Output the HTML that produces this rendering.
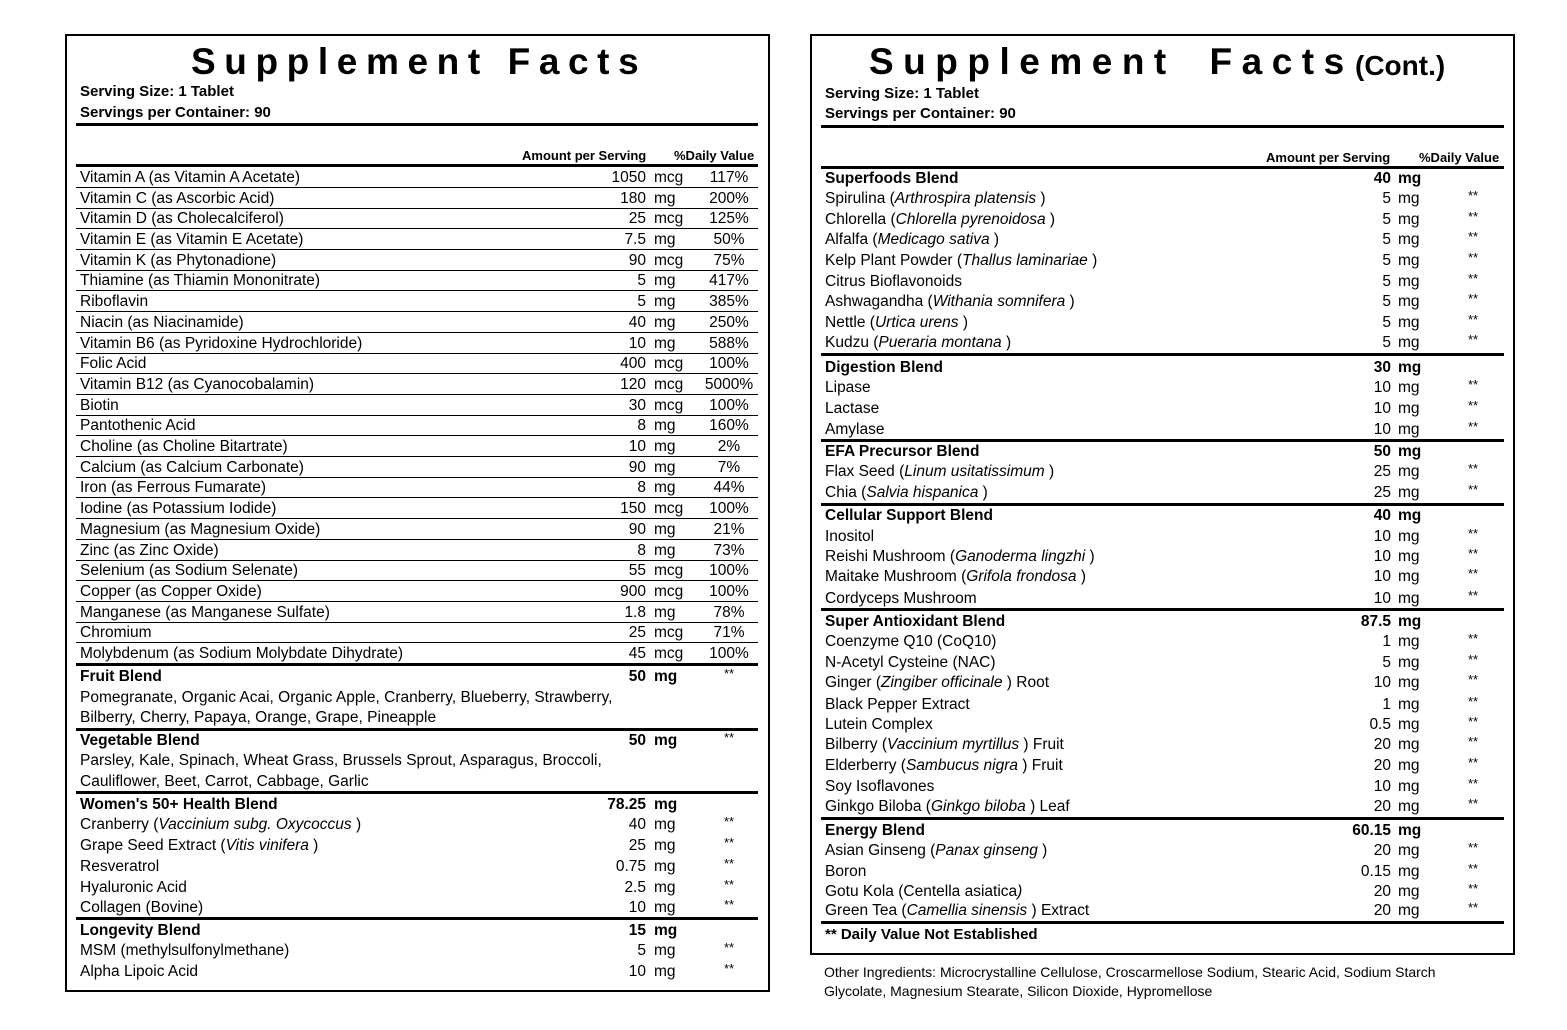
<!DOCTYPE html>
<html><head><meta charset="utf-8"><style>
body{margin:0;width:1567px;height:1030px;background:#fff;position:relative;font-family:"Liberation Sans",Arial,sans-serif;color:#000;overflow:hidden}
.box{position:absolute;border:2px solid #000;box-sizing:border-box}
.t{position:absolute;font-weight:bold;font-size:37px;letter-spacing:8.6px;white-space:nowrap;line-height:40px}
.s{position:absolute;font-weight:bold;font-size:15px;white-space:nowrap;line-height:20px}
.k{position:absolute;height:3px;background:#000}
.r{position:absolute;height:20px;line-height:22px;font-size:15.5px;white-space:nowrap}
.ln{border-bottom:1px solid #000}
.r span{position:absolute;top:0}
.L .a{left:4px}
.L .n{left:480px;width:90px;text-align:right}
.L .u{left:578px}
.L .p{left:622px;width:62px;text-align:center}
.R .a{left:4px}
.R .n{left:480px;width:90px;text-align:right}
.R .u{left:577px}
.R .p{left:620px;width:64px;text-align:center}
.r .p.x{font-size:13px;line-height:16px}
.b{font-weight:bold}
.h{position:absolute;font-size:13px;font-weight:bold;white-space:nowrap}
i{font-style:italic}
</style></head><body>

<div class="box" style="left:65px;top:34px;width:705px;height:958px"></div>
<div class="t" style="left:191px;top:42px">Supplement Facts</div>
<div class="s" style="left:80px;top:82px">Serving Size: 1 Tablet</div>
<div class="s" style="left:80px;top:103px">Servings per Container: 90</div>
<div class="k" style="left:76px;top:123px;width:682px"></div>
<div class="h" style="left:522px;top:148px">Amount per Serving</div>
<div class="h" style="left:674px;top:148px">%Daily Value</div>
<div class="k" style="left:76px;top:164px;width:682px"></div>

<div class="r L ln" style="left:76px;width:682px;top:167px"><span class="a">Vitamin A (as Vitamin A Acetate)</span><span class="n">1050</span><span class="u">mcg</span><span class="p">117%</span></div>
<div class="r L ln" style="left:76px;width:682px;top:188px"><span class="a">Vitamin C (as Ascorbic Acid)</span><span class="n">180</span><span class="u">mg</span><span class="p">200%</span></div>
<div class="r L ln" style="left:76px;width:682px;top:208px"><span class="a">Vitamin D (as Cholecalciferol)</span><span class="n">25</span><span class="u">mcg</span><span class="p">125%</span></div>
<div class="r L ln" style="left:76px;width:682px;top:229px"><span class="a">Vitamin E (as Vitamin E Acetate)</span><span class="n">7.5</span><span class="u">mg</span><span class="p">50%</span></div>
<div class="r L ln" style="left:76px;width:682px;top:250px"><span class="a">Vitamin K (as Phytonadione)</span><span class="n">90</span><span class="u">mcg</span><span class="p">75%</span></div>
<div class="r L ln" style="left:76px;width:682px;top:270px"><span class="a">Thiamine (as Thiamin Mononitrate)</span><span class="n">5</span><span class="u">mg</span><span class="p">417%</span></div>
<div class="r L ln" style="left:76px;width:682px;top:291px"><span class="a">Riboflavin</span><span class="n">5</span><span class="u">mg</span><span class="p">385%</span></div>
<div class="r L ln" style="left:76px;width:682px;top:312px"><span class="a">Niacin (as Niacinamide)</span><span class="n">40</span><span class="u">mg</span><span class="p">250%</span></div>
<div class="r L ln" style="left:76px;width:682px;top:333px"><span class="a">Vitamin B6 (as Pyridoxine Hydrochloride)</span><span class="n">10</span><span class="u">mg</span><span class="p">588%</span></div>
<div class="r L ln" style="left:76px;width:682px;top:353px"><span class="a">Folic Acid</span><span class="n">400</span><span class="u">mcg</span><span class="p">100%</span></div>
<div class="r L ln" style="left:76px;width:682px;top:374px"><span class="a">Vitamin B12 (as Cyanocobalamin)</span><span class="n">120</span><span class="u">mcg</span><span class="p">5000%</span></div>
<div class="r L ln" style="left:76px;width:682px;top:395px"><span class="a">Biotin</span><span class="n">30</span><span class="u">mcg</span><span class="p">100%</span></div>
<div class="r L ln" style="left:76px;width:682px;top:415px"><span class="a">Pantothenic Acid</span><span class="n">8</span><span class="u">mg</span><span class="p">160%</span></div>
<div class="r L ln" style="left:76px;width:682px;top:436px"><span class="a">Choline (as Choline Bitartrate)</span><span class="n">10</span><span class="u">mg</span><span class="p">2%</span></div>
<div class="r L ln" style="left:76px;width:682px;top:457px"><span class="a">Calcium (as Calcium Carbonate)</span><span class="n">90</span><span class="u">mg</span><span class="p">7%</span></div>
<div class="r L ln" style="left:76px;width:682px;top:477px"><span class="a">Iron (as Ferrous Fumarate)</span><span class="n">8</span><span class="u">mg</span><span class="p">44%</span></div>
<div class="r L ln" style="left:76px;width:682px;top:498px"><span class="a">Iodine (as Potassium Iodide)</span><span class="n">150</span><span class="u">mcg</span><span class="p">100%</span></div>
<div class="r L ln" style="left:76px;width:682px;top:519px"><span class="a">Magnesium (as Magnesium Oxide)</span><span class="n">90</span><span class="u">mg</span><span class="p">21%</span></div>
<div class="r L ln" style="left:76px;width:682px;top:540px"><span class="a">Zinc (as Zinc Oxide)</span><span class="n">8</span><span class="u">mg</span><span class="p">73%</span></div>
<div class="r L ln" style="left:76px;width:682px;top:560px"><span class="a">Selenium (as Sodium Selenate)</span><span class="n">55</span><span class="u">mcg</span><span class="p">100%</span></div>
<div class="r L ln" style="left:76px;width:682px;top:581px"><span class="a">Copper (as Copper Oxide)</span><span class="n">900</span><span class="u">mcg</span><span class="p">100%</span></div>
<div class="r L ln" style="left:76px;width:682px;top:602px"><span class="a">Manganese (as Manganese Sulfate)</span><span class="n">1.8</span><span class="u">mg</span><span class="p">78%</span></div>
<div class="r L ln" style="left:76px;width:682px;top:622px"><span class="a">Chromium</span><span class="n">25</span><span class="u">mcg</span><span class="p">71%</span></div>
<div class="r L" style="left:76px;width:682px;top:643px"><span class="a">Molybdenum (as Sodium Molybdate Dihydrate)</span><span class="n">45</span><span class="u">mcg</span><span class="p">100%</span></div>
<div class="k" style="left:76px;top:663px;width:682px"></div>

<div class="r L b" style="left:76px;width:682px;top:666px"><span class="a">Fruit Blend</span><span class="n">50</span><span class="u">mg</span><span class="p x" style="font-weight:normal">**</span></div>
<div class="r L" style="left:76px;width:682px;top:687px"><span class="a">Pomegranate, Organic Acai, Organic Apple, Cranberry, Blueberry, Strawberry,</span></div>
<div class="r L" style="left:76px;width:682px;top:707px"><span class="a">Bilberry, Cherry, Papaya, Orange, Grape, Pineapple</span></div>
<div class="k" style="left:76px;top:728px;width:682px"></div>
<div class="r L b" style="left:76px;width:682px;top:730px"><span class="a">Vegetable Blend</span><span class="n">50</span><span class="u">mg</span><span class="p x" style="font-weight:normal">**</span></div>
<div class="r L" style="left:76px;width:682px;top:750px"><span class="a">Parsley, Kale, Spinach, Wheat Grass, Brussels Sprout, Asparagus, Broccoli,</span></div>
<div class="r L" style="left:76px;width:682px;top:771px"><span class="a">Cauliflower, Beet, Carrot, Cabbage, Garlic</span></div>
<div class="k" style="left:76px;top:791px;width:682px"></div>
<div class="r L b" style="left:76px;width:682px;top:794px"><span class="a">Women's 50+ Health Blend</span><span class="n">78.25</span><span class="u">mg</span></div>
<div class="r L" style="left:76px;width:682px;top:814px"><span class="a">Cranberry (<i>Vaccinium subg. Oxycoccus</i> )</span><span class="n">40</span><span class="u">mg</span><span class="p x">**</span></div>
<div class="r L" style="left:76px;width:682px;top:835px"><span class="a">Grape Seed Extract (<i>Vitis vinifera</i> )</span><span class="n">25</span><span class="u">mg</span><span class="p x">**</span></div>
<div class="r L" style="left:76px;width:682px;top:856px"><span class="a">Resveratrol</span><span class="n">0.75</span><span class="u">mg</span><span class="p x">**</span></div>
<div class="r L" style="left:76px;width:682px;top:877px"><span class="a">Hyaluronic Acid</span><span class="n">2.5</span><span class="u">mg</span><span class="p x">**</span></div>
<div class="r L" style="left:76px;width:682px;top:897px"><span class="a">Collagen (Bovine)</span><span class="n">10</span><span class="u">mg</span><span class="p x">**</span></div>
<div class="k" style="left:76px;top:917px;width:682px"></div>
<div class="r L b" style="left:76px;width:682px;top:920px"><span class="a">Longevity Blend</span><span class="n">15</span><span class="u">mg</span></div>
<div class="r L" style="left:76px;width:682px;top:940px"><span class="a">MSM (methylsulfonylmethane)</span><span class="n">5</span><span class="u">mg</span><span class="p x">**</span></div>
<div class="r L" style="left:76px;width:682px;top:961px"><span class="a">Alpha Lipoic Acid</span><span class="n">10</span><span class="u">mg</span><span class="p x">**</span></div>

<!-- right -->
<div class="box" style="left:810px;top:34px;width:705px;height:921px"></div>
<div class="t" style="left:869px;top:42px;letter-spacing:9.5px;word-spacing:14px">Supplement Facts</div>
<div class="t" style="left:1355px;top:46px;font-size:28px;letter-spacing:0">(Cont.)</div>
<div class="s" style="left:825px;top:84px">Serving Size: 1 Tablet</div>
<div class="s" style="left:825px;top:104px">Servings per Container: 90</div>
<div class="k" style="left:821px;top:125px;width:683px"></div>
<div class="h" style="left:1266px;top:150px">Amount per Serving</div>
<div class="h" style="left:1419px;top:150px">%Daily Value</div>
<div class="k" style="left:821px;top:166px;width:683px"></div>

<div class="r R b" style="left:821px;width:683px;top:168px"><span class="a">Superfoods Blend</span><span class="n">40</span><span class="u">mg</span></div>
<div class="r R" style="left:821px;width:683px;top:188px"><span class="a">Spirulina (<i>Arthrospira platensis</i> )</span><span class="n">5</span><span class="u">mg</span><span class="p x">**</span></div>
<div class="r R" style="left:821px;width:683px;top:209px"><span class="a">Chlorella (<i>Chlorella pyrenoidosa</i> )</span><span class="n">5</span><span class="u">mg</span><span class="p x">**</span></div>
<div class="r R" style="left:821px;width:683px;top:229px"><span class="a">Alfalfa (<i>Medicago sativa</i> )</span><span class="n">5</span><span class="u">mg</span><span class="p x">**</span></div>
<div class="r R" style="left:821px;width:683px;top:250px"><span class="a">Kelp Plant Powder (<i>Thallus laminariae</i> )</span><span class="n">5</span><span class="u">mg</span><span class="p x">**</span></div>
<div class="r R" style="left:821px;width:683px;top:271px"><span class="a">Citrus Bioflavonoids</span><span class="n">5</span><span class="u">mg</span><span class="p x">**</span></div>
<div class="r R" style="left:821px;width:683px;top:291px"><span class="a">Ashwagandha (<i>Withania somnifera</i> )</span><span class="n">5</span><span class="u">mg</span><span class="p x">**</span></div>
<div class="r R" style="left:821px;width:683px;top:312px"><span class="a">Nettle (<i>Urtica urens</i> )</span><span class="n">5</span><span class="u">mg</span><span class="p x">**</span></div>
<div class="r R" style="left:821px;width:683px;top:332px"><span class="a">Kudzu (<i>Pueraria montana</i> )</span><span class="n">5</span><span class="u">mg</span><span class="p x">**</span></div>
<div class="k" style="left:821px;top:353px;width:683px"></div>
<div class="r R b" style="left:821px;width:683px;top:357px"><span class="a">Digestion Blend</span><span class="n">30</span><span class="u">mg</span></div>
<div class="r R" style="left:821px;width:683px;top:377px"><span class="a">Lipase</span><span class="n">10</span><span class="u">mg</span><span class="p x">**</span></div>
<div class="r R" style="left:821px;width:683px;top:398px"><span class="a">Lactase</span><span class="n">10</span><span class="u">mg</span><span class="p x">**</span></div>
<div class="r R" style="left:821px;width:683px;top:419px"><span class="a">Amylase</span><span class="n">10</span><span class="u">mg</span><span class="p x">**</span></div>
<div class="k" style="left:821px;top:439px;width:683px"></div>
<div class="r R b" style="left:821px;width:683px;top:441px"><span class="a">EFA Precursor Blend</span><span class="n">50</span><span class="u">mg</span></div>
<div class="r R" style="left:821px;width:683px;top:461px"><span class="a">Flax Seed (<i>Linum usitatissimum</i> )</span><span class="n">25</span><span class="u">mg</span><span class="p x">**</span></div>
<div class="r R" style="left:821px;width:683px;top:482px"><span class="a">Chia (<i>Salvia hispanica</i> )</span><span class="n">25</span><span class="u">mg</span><span class="p x">**</span></div>
<div class="k" style="left:821px;top:503px;width:683px"></div>
<div class="r R b" style="left:821px;width:683px;top:505px"><span class="a">Cellular Support Blend</span><span class="n">40</span><span class="u">mg</span></div>
<div class="r R" style="left:821px;width:683px;top:526px"><span class="a">Inositol</span><span class="n">10</span><span class="u">mg</span><span class="p x">**</span></div>
<div class="r R" style="left:821px;width:683px;top:546px"><span class="a">Reishi Mushroom (<i>Ganoderma lingzhi</i> )</span><span class="n">10</span><span class="u">mg</span><span class="p x">**</span></div>
<div class="r R" style="left:821px;width:683px;top:566px"><span class="a">Maitake Mushroom (<i>Grifola frondosa</i> )</span><span class="n">10</span><span class="u">mg</span><span class="p x">**</span></div>
<div class="r R" style="left:821px;width:683px;top:588px"><span class="a">Cordyceps Mushroom</span><span class="n">10</span><span class="u">mg</span><span class="p x">**</span></div>
<div class="k" style="left:821px;top:608px;width:683px"></div>
<div class="r R b" style="left:821px;width:683px;top:611px"><span class="a">Super Antioxidant Blend</span><span class="n">87.5</span><span class="u">mg</span></div>
<div class="r R" style="left:821px;width:683px;top:631px"><span class="a">Coenzyme Q10 (CoQ10)</span><span class="n">1</span><span class="u">mg</span><span class="p x">**</span></div>
<div class="r R" style="left:821px;width:683px;top:652px"><span class="a">N-Acetyl Cysteine (NAC)</span><span class="n">5</span><span class="u">mg</span><span class="p x">**</span></div>
<div class="r R" style="left:821px;width:683px;top:672px"><span class="a">Ginger (<i>Zingiber officinale</i> ) Root</span><span class="n">10</span><span class="u">mg</span><span class="p x">**</span></div>
<div class="r R" style="left:821px;width:683px;top:694px"><span class="a">Black Pepper Extract</span><span class="n">1</span><span class="u">mg</span><span class="p x">**</span></div>
<div class="r R" style="left:821px;width:683px;top:714px"><span class="a">Lutein Complex</span><span class="n">0.5</span><span class="u">mg</span><span class="p x">**</span></div>
<div class="r R" style="left:821px;width:683px;top:734px"><span class="a">Bilberry (<i>Vaccinium myrtillus</i> ) Fruit</span><span class="n">20</span><span class="u">mg</span><span class="p x">**</span></div>
<div class="r R" style="left:821px;width:683px;top:755px"><span class="a">Elderberry (<i>Sambucus nigra</i> ) Fruit</span><span class="n">20</span><span class="u">mg</span><span class="p x">**</span></div>
<div class="r R" style="left:821px;width:683px;top:776px"><span class="a">Soy Isoflavones</span><span class="n">10</span><span class="u">mg</span><span class="p x">**</span></div>
<div class="r R" style="left:821px;width:683px;top:796px"><span class="a">Ginkgo Biloba (<i>Ginkgo biloba</i> ) Leaf</span><span class="n">20</span><span class="u">mg</span><span class="p x">**</span></div>
<div class="k" style="left:821px;top:817px;width:683px"></div>
<div class="r R b" style="left:821px;width:683px;top:820px"><span class="a">Energy Blend</span><span class="n">60.15</span><span class="u">mg</span></div>
<div class="r R" style="left:821px;width:683px;top:840px"><span class="a">Asian Ginseng (<i>Panax ginseng</i> )</span><span class="n">20</span><span class="u">mg</span><span class="p x">**</span></div>
<div class="r R" style="left:821px;width:683px;top:861px"><span class="a">Boron</span><span class="n">0.15</span><span class="u">mg</span><span class="p x">**</span></div>
<div class="r R" style="left:821px;width:683px;top:881px"><span class="a">Gotu Kola (Centella asiatica<i>)</i></span><span class="n">20</span><span class="u">mg</span><span class="p x">**</span></div>
<div class="r R" style="left:821px;width:683px;top:900px"><span class="a">Green Tea (<i>Camellia sinensis</i> ) Extract</span><span class="n">20</span><span class="u">mg</span><span class="p x">**</span></div>
<div class="k" style="left:821px;top:921px;width:683px"></div>
<div class="s" style="left:825px;top:925px">** Daily Value Not Established</div>

<div class="r" style="left:824px;top:961px;font-size:14px">Other Ingredients: Microcrystalline Cellulose, Croscarmellose Sodium, Stearic Acid, Sodium Starch</div>
<div class="r" style="left:824px;top:980px;font-size:14px">Glycolate, Magnesium Stearate, Silicon Dioxide, Hypromellose</div>
</body></html>
